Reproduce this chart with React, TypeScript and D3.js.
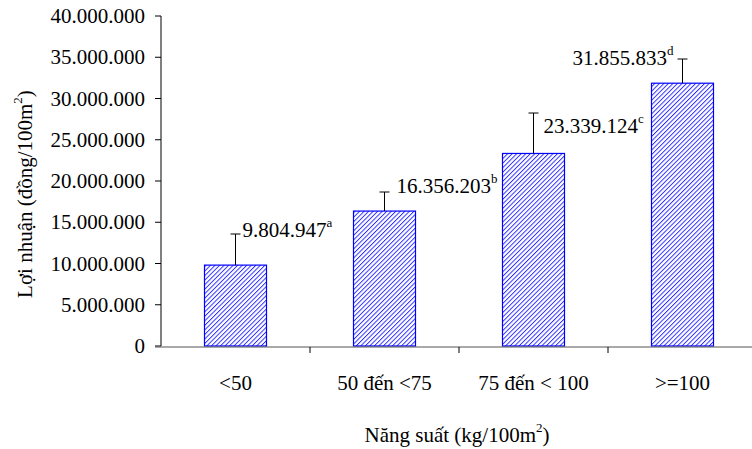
import React from "react";
import * as d3 from "d3";

const categories = ["<50", "50 đến <75", "75 đến < 100", ">=100"];
const profits = [9804947, 16356203, 23339124, 31855833];
const errors = [3770000, 2310000, 4900000, 2930000];
const letters = ["a", "b", "c", "d"];
const yTicks = [0, 5000000, 10000000, 15000000, 20000000, 25000000, 30000000, 35000000, 40000000];

// label placement relative to the top of each error bar: [dx, dy, anchor]
const labelPlacement: [number, number, "start" | "end"][] = [
  [7, 3, "start"],
  [12, 1, "start"],
  [10, 20, "start"],
  [-9, 6, "end"],
];

const W = 752;
const H = 449;
const FONT = "Liberation Serif";

const fmt = (v: number) => (v === 0 ? "0" : d3.format(",")(v).replace(/,/g, "."));

const txt: React.CSSProperties = { fontFamily: FONT, fontSize: 21 };

export default function App() {
  const x = d3.scaleBand<string>().domain(categories).range([161, 757]).padding(0);
  const y = d3.scaleLinear().domain([0, 40000000]).range([346, 16]);
  const barW = 62;
  const x0 = 161;
  const y0 = y(0);

  return (
    <svg width={W} height={H} style={{ position: "absolute", left: 0, top: 0, background: "#fff" }}>
      <defs>
        <pattern id="hatch" patternUnits="userSpaceOnUse" width={3.2} height={3.2} patternTransform="rotate(45)">
          <rect width={3.2} height={3.2} fill="#fff" />
          <line x1={0} y1={0} x2={0} y2={3.2} stroke="#2a2aff" strokeWidth={1.9} />
        </pattern>
      </defs>

      {/* bars */}
      {categories.map((c, i) => {
        const cx = x(c)! + x.bandwidth() / 2;
        return (
          <rect
            key={c}
            x={cx - barW / 2}
            y={y(profits[i])}
            width={barW}
            height={y0 - y(profits[i])}
            fill="url(#hatch)"
            stroke="#0000ff"
            strokeWidth={1.2}
          />
        );
      })}

      {/* error bars */}
      {categories.map((c, i) => {
        const cx = x(c)! + x.bandwidth() / 2;
        const top = y(profits[i] + errors[i]);
        return (
          <g key={c} stroke="#000" strokeWidth={1}>
            <line x1={cx} x2={cx} y1={y(profits[i])} y2={top} />
            <line x1={cx - 5} x2={cx + 5} y1={top} y2={top} />
          </g>
        );
      })}

      {/* value labels */}
      {categories.map((c, i) => {
        const cx = x(c)! + x.bandwidth() / 2;
        const top = y(profits[i] + errors[i]);
        const [dx, dy, anchor] = labelPlacement[i];
        return (
          <text key={c} x={cx + dx} y={top + dy} style={txt} textAnchor={anchor} fill="#000">
            {fmt(profits[i])}
            <tspan style={{ fontSize: 13 }} dy={-10}>{letters[i]}</tspan>
          </text>
        );
      })}

      {/* y axis */}
      <line x1={x0} x2={x0} y1={y(40000000)} y2={y0} stroke="#000" strokeWidth={1} />
      {yTicks.map((t) => (
        <g key={t}>
          <line x1={x0 - 6} x2={x0} y1={y(t)} y2={y(t)} stroke="#000" strokeWidth={1} />
          <text x={145} y={y(t) + 7} style={txt} textAnchor="end" fill="#000">
            {fmt(t)}
          </text>
        </g>
      ))}

      {/* x axis */}
      <line x1={x0 - 6} x2={W} y1={y0 + 1} y2={y0 + 1} stroke="#555" strokeWidth={1.2} />
      {categories.map((c) => (
        <line key={c} x1={x(c)! + x.bandwidth()} x2={x(c)! + x.bandwidth()} y1={y0 + 1} y2={y0 + 7} stroke="#000" strokeWidth={1} />
      ))}
      {categories.map((c) => (
        <text key={c} x={x(c)! + x.bandwidth() / 2} y={390} style={txt} textAnchor="middle" fill="#000">
          {c}
        </text>
      ))}

      {/* axis titles */}
      <text x={457} y={442} style={txt} textAnchor="middle" fill="#000">
        Năng suất (kg/100m<tspan style={{ fontSize: 13 }} dy={-10}>2</tspan>
        <tspan dy={10}>)</tspan>
      </text>
      <text transform="translate(32,194) rotate(-90)" style={txt} textAnchor="middle" fill="#000">
        Lợi nhuận (đồng/100m<tspan style={{ fontSize: 13 }} dy={-10}>2</tspan>
        <tspan dy={10}>)</tspan>
      </text>
    </svg>
  );
}
